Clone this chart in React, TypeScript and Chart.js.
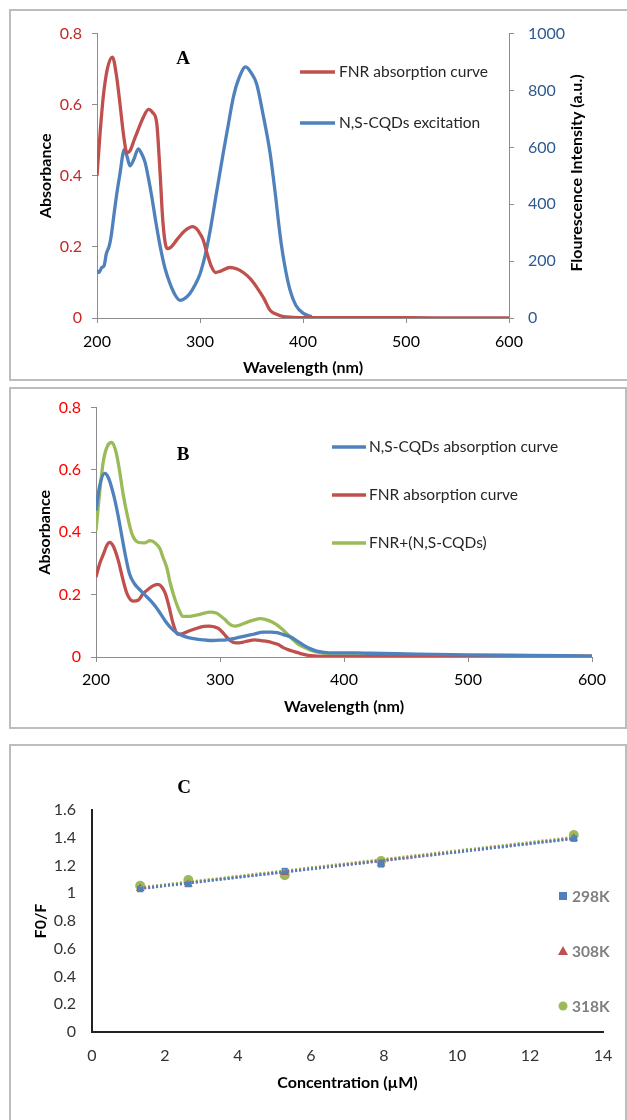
import React, { useEffect, useRef } from 'react';
import { Chart, registerables } from 'chart.js';
Chart.register(...registerables);

const FONT = 'Lato, "Liberation Sans", sans-serif';
const SERIF = '"Liberation Serif", "DejaVu Serif", serif';
const RED = '#C0504D';
const BLUE = '#4F81BD';
const GREEN = '#9BBB59';
const AXIS_GREY = '#8C8C8C';
const TICK_SIZE = 16;
const TITLE_SIZE = 16;

// ---------- Panel A ----------
const aTicksWavelength = [200, 300, 400, 500, 600];
const aFnrWavelength = [200, 203, 206, 210, 215, 219, 222, 226, 229, 232, 236, 240, 245, 250, 254, 258, 261, 264, 268, 272, 278, 285, 293, 297, 300, 303, 307, 311, 315, 320, 329, 336, 342, 349, 355, 362, 368, 375, 381, 390, 400, 450, 505, 550, 600];
const aFnrAbsorbance = [0.40, 0.52, 0.62, 0.70, 0.734, 0.68, 0.61, 0.51, 0.465, 0.47, 0.50, 0.53, 0.565, 0.587, 0.578, 0.548, 0.42, 0.27, 0.195, 0.20, 0.222, 0.245, 0.257, 0.25, 0.237, 0.22, 0.18, 0.145, 0.128, 0.132, 0.142, 0.138, 0.128, 0.11, 0.087, 0.055, 0.022, 0.01, 0.004, 0.002, 0.001, 0.001, 0.001, 0, 0];
const aCqdWavelength = [200, 202, 204.5, 207, 209, 212, 214, 216, 219, 222, 226.6, 229, 232, 236, 240, 243, 246.7, 250, 253, 257, 261, 266, 271, 276, 280.7, 285, 290, 295, 300, 305, 309.7, 316, 322.6, 327, 332.4, 338, 344.4, 350, 355, 361, 368, 373, 377.7, 382, 387.5, 393, 400.4, 408.5];
const aCqdIntensity = [166, 160, 177, 185, 225, 255, 294, 350, 432, 500, 593, 570, 535, 560, 595, 580, 547, 490, 431, 340, 258, 175, 120, 80, 62, 68, 85, 115, 155, 220, 304, 440, 581, 670, 777, 845, 883, 860, 823, 720, 581, 440, 293, 190, 97, 45, 16, 5];

// ---------- Panel B ----------
const bCqdWavelength = [200, 203, 207, 210, 214, 218, 221, 224, 227, 231, 236, 240, 244, 248, 252, 256, 261, 265, 268, 273, 279, 286, 292, 299, 305, 312, 319, 327, 335, 341, 346, 351, 357, 362, 367, 372, 378, 384, 391, 400, 410, 420, 450, 500, 550, 600];
const bCqdAbsorbance = [0.47, 0.55, 0.589, 0.575, 0.523, 0.45, 0.384, 0.32, 0.267, 0.235, 0.213, 0.197, 0.181, 0.162, 0.139, 0.115, 0.091, 0.078, 0.071, 0.064, 0.059, 0.055, 0.053, 0.054, 0.055, 0.06, 0.066, 0.073, 0.08, 0.08, 0.078, 0.072, 0.064, 0.052, 0.039, 0.028, 0.019, 0.015, 0.013, 0.013, 0.013, 0.012, 0.01, 0.007, 0.005, 0.003];
const bFnrWavelength = [200, 203, 206, 209, 211, 214, 218, 221, 225, 230, 234, 238, 243, 247, 250, 253, 256, 259, 262, 266, 270, 276, 282, 287, 291, 295, 299, 303, 308, 313, 318, 323, 328, 334, 338, 343, 347, 351, 356, 360, 365, 370, 378, 389, 400, 450, 500, 550, 600];
const bFnrAbsorbance = [0.256, 0.30, 0.33, 0.36, 0.368, 0.355, 0.309, 0.26, 0.203, 0.179, 0.182, 0.203, 0.22, 0.23, 0.233, 0.225, 0.203, 0.16, 0.11, 0.073, 0.075, 0.085, 0.093, 0.098, 0.099, 0.097, 0.091, 0.075, 0.053, 0.045, 0.047, 0.052, 0.055, 0.052, 0.05, 0.045, 0.04, 0.03, 0.022, 0.017, 0.011, 0.006, 0.003, 0.001, 0.001, 0.001, 0.001, 0.002, 0.003];
const bMixWavelength = [200, 203, 206, 209, 212.6, 216, 219, 222, 225, 229, 234, 239, 243.5, 248, 251.6, 254, 257, 260, 264, 267, 270, 275, 279, 285, 292, 297, 300, 304, 308, 312, 317, 322, 327, 332, 337, 342, 347, 354, 359, 364.5, 368.5, 373, 378, 385, 391, 400, 450, 500, 550, 600];
const bMixAbsorbance = [0.405, 0.53, 0.63, 0.675, 0.688, 0.66, 0.597, 0.52, 0.459, 0.395, 0.368, 0.366, 0.373, 0.365, 0.347, 0.32, 0.288, 0.235, 0.181, 0.15, 0.13, 0.13, 0.133, 0.138, 0.144, 0.141, 0.133, 0.12, 0.105, 0.099, 0.104, 0.112, 0.118, 0.123, 0.12, 0.112, 0.1, 0.075, 0.055, 0.037, 0.03, 0.022, 0.016, 0.011, 0.0085, 0.007, 0.005, 0.004, 0.003, 0.002];

// ---------- Panel C ----------
const cConcentration = [1.32, 2.64, 5.28, 7.92, 13.2];
const c298K = [1.03, 1.066, 1.16, 1.208, 1.393];
const c308K = [1.035, 1.065, 1.15, 1.212, 1.396];
const c318K = [1.054, 1.095, 1.13, 1.232, 1.42];
const cTrendConcentration = [1.32, 13.2];
const cTrend298K = [1.032, 1.392];
const cTrend308K = [1.034, 1.396];
const cTrend318K = [1.042, 1.405];
const cLegendLabels = ['298K', '308K', '318K'];

const pts = (xs: number[], ys: number[]) => xs.map((x, i) => ({ x, y: ys[i] }));
const fmt = (v: number) => String(Math.round(v * 10) / 10);

function textPlugin(draw: (ctx: CanvasRenderingContext2D, chart: any) => void) {
  return {
    id: 'customText',
    afterDraw(chart: any) {
      const ctx = chart.ctx;
      ctx.save();
      draw(ctx, chart);
      ctx.restore();
    },
  };
}

function legendLine(ctx: CanvasRenderingContext2D, x1: number, x2: number, y: number, color: string, text: string, tx: number) {
  ctx.strokeStyle = color;
  ctx.lineWidth = 3.5;
  ctx.beginPath();
  ctx.moveTo(x1, y);
  ctx.lineTo(x2, y);
  ctx.stroke();
  ctx.fillStyle = '#262626';
  ctx.font = `15.5px ${FONT}`;
  ctx.textAlign = 'left';
  ctx.textBaseline = 'middle';
  ctx.fillText(text, tx, y);
}

function panelLetter(ctx: CanvasRenderingContext2D, letter: string, x: number, y: number) {
  ctx.fillStyle = '#000';
  ctx.font = `bold 19px ${SERIF}`;
  ctx.textAlign = 'center';
  ctx.textBaseline = 'middle';
  ctx.fillText(letter, x, y);
}

const lineDs = (label: string, xs: number[], ys: number[], color: string, axis = 'y') => ({
  label,
  data: pts(xs, ys),
  borderColor: color,
  backgroundColor: color,
  borderWidth: 3.3,
  pointRadius: 0,
  fill: false,
  cubicInterpolationMode: 'monotone',
  yAxisID: axis,
});

const wavelengthX = (height: number, titleBottom: number, tickPad: number) => ({
  type: 'linear',
  min: 200,
  max: 600,
  afterBuildTicks: (s: any) => { s.ticks = aTicksWavelength.map((v) => ({ value: v })); },
  ticks: { color: '#000', font: { family: FONT, size: TICK_SIZE }, padding: tickPad },
  grid: { display: true, drawOnChartArea: false, drawTicks: true, tickLength: 5, color: AXIS_GREY },
  border: { display: true, color: AXIS_GREY, width: 1 },
  title: { display: true, text: 'Wavelength (nm)', color: '#000', font: { family: FONT, size: TITLE_SIZE, weight: 'bold' }, padding: { top: 0, bottom: titleBottom } },
  afterFit: (s: any) => { s.height = height; },
});

function makeA(): any {
  return {
    type: 'line',
    data: {
      datasets: [
        lineDs('FNR absorption curve', aFnrWavelength, aFnrAbsorbance, RED, 'y'),
        lineDs('N,S-CQDs excitation', aCqdWavelength, aCqdIntensity, BLUE, 'y2'),
      ],
    },
    options: {
      animation: false,
      responsive: false,
      devicePixelRatio: 1,
      layout: { padding: { top: 19, left: 0, right: 0, bottom: 0 } },
      plugins: { legend: { display: false }, tooltip: { enabled: false } },
      scales: {
        x: wavelengthX(62, 3, 9),
        y: {
          position: 'left', min: 0, max: 0.8,
          ticks: { stepSize: 0.2, color: '#C62828', font: { family: FONT, size: TICK_SIZE }, padding: 10, callback: (v: number) => fmt(v) },
          grid: { display: true, drawOnChartArea: false, drawTicks: true, tickLength: 5, color: AXIS_GREY },
          border: { display: true, color: AXIS_GREY, width: 1 },
          title: { display: true, text: 'Absorbance', color: '#000', font: { family: FONT, size: TITLE_SIZE, weight: 'bold' }, padding: { top: 26, bottom: 0 } },
          afterFit: (s: any) => { s.width = 87; },
        },
        y2: {
          position: 'right', min: 0, max: 1000,
          ticks: { stepSize: 200, color: '#2F5A8E', font: { family: FONT, size: TICK_SIZE }, padding: 14, callback: (v: number) => String(Math.round(v)) },
          grid: { display: true, drawOnChartArea: false, drawTicks: true, tickLength: 5, color: AXIS_GREY },
          border: { display: true, color: AXIS_GREY, width: 1 },
          afterFit: (s: any) => { s.width = 118; },
        },
      },
    },
    plugins: [textPlugin((ctx) => {
      panelLetter(ctx, 'A', 173, 49);
      legendLine(ctx, 290, 325, 62, RED, 'FNR absorption curve', 329);
      legendLine(ctx, 290, 325, 113, BLUE, 'N,S-CQDs excitation', 329);
      ctx.save();
      ctx.translate(567, 163);
      ctx.rotate(-Math.PI / 2);
      ctx.fillStyle = '#000';
      ctx.font = `bold ${TITLE_SIZE}px ${FONT}`;
      ctx.textAlign = 'center';
      ctx.textBaseline = 'middle';
      ctx.fillText('Flourescence Intensity (a.u.)', 0, 0);
      ctx.restore();
    })],
  };
}

function makeB(): any {
  return {
    type: 'line',
    data: {
      datasets: [
        lineDs('N,S-CQDs absorption curve', bCqdWavelength, bCqdAbsorbance, BLUE),
        lineDs('FNR absorption curve', bFnrWavelength, bFnrAbsorbance, RED),
        lineDs('FNR+(N,S-CQDs)', bMixWavelength, bMixAbsorbance, GREEN),
      ],
    },
    options: {
      animation: false,
      responsive: false,
      devicePixelRatio: 1,
      layout: { padding: { top: 18, left: 0, right: 35, bottom: 0 } },
      plugins: { legend: { display: false }, tooltip: { enabled: false } },
      scales: {
        x: wavelengthX(71, 12, 8),
        y: {
          position: 'left', min: 0, max: 0.8,
          ticks: { stepSize: 0.2, color: '#FF0000', font: { family: FONT, size: TICK_SIZE }, padding: 10, callback: (v: number) => fmt(v) },
          grid: { display: true, drawOnChartArea: false, drawTicks: true, tickLength: 5, color: AXIS_GREY },
          border: { display: true, color: AXIS_GREY, width: 1 },
          title: { display: true, text: 'Absorbance', color: '#000', font: { family: FONT, size: TITLE_SIZE, weight: 'bold' }, padding: { top: 25, bottom: 0 } },
          afterFit: (s: any) => { s.width = 86; },
        },
      },
    },
    plugins: [textPlugin((ctx) => {
      panelLetter(ctx, 'B', 173, 67);
      legendLine(ctx, 322, 356, 59, BLUE, 'N,S-CQDs absorption curve', 359);
      legendLine(ctx, 322, 356, 107, RED, 'FNR absorption curve', 359);
      legendLine(ctx, 322, 356, 155, GREEN, 'FNR+(N,S-CQDs)', 359);
    })],
  };
}

function makeC(): any {
  const marker = (label: string, ys: number[], color: string, style: string, r: number) => ({
    label, data: pts(cConcentration, ys), showLine: false, pointStyle: style, pointRadius: r,
    pointBackgroundColor: color, pointBorderColor: color, pointBorderWidth: 0, borderColor: color, backgroundColor: color,
  });
  const trend = (label: string, ys: number[], color: string) => ({
    label, data: pts(cTrendConcentration, ys), borderColor: color, borderWidth: 2.5, borderDash: [2, 2],
    pointRadius: 0, fill: false, tension: 0,
  });
  return {
    type: 'line',
    data: {
      datasets: [
        trend('298K trend', cTrend298K, BLUE),
        trend('308K trend', cTrend308K, RED),
        trend('318K trend', cTrend318K, GREEN),
        marker('298K', c298K, BLUE, 'rect', 4.5),
        marker('308K', c308K, RED, 'triangle', 5),
        marker('318K', c318K, GREEN, 'circle', 5),
      ],
    },
    options: {
      animation: false,
      responsive: false,
      devicePixelRatio: 1,
      layout: { padding: { top: 65, left: 0, right: 24, bottom: 0 } },
      plugins: { legend: { display: false }, tooltip: { enabled: false } },
      scales: {
        x: {
          type: 'linear', min: 0, max: 14,
          ticks: { stepSize: 2, color: '#333', font: { family: FONT, size: TICK_SIZE }, padding: 14 },
          grid: { display: false, drawTicks: false },
          border: { display: true, color: '#222', width: 2 },
          title: { display: true, text: 'Concentration (µM)', color: '#000', font: { family: FONT, size: TITLE_SIZE, weight: 'bold' }, padding: { top: 0, bottom: 28 } },
          afterFit: (s: any) => { s.height = 88; },
        },
        y: {
          min: 0, max: 1.6,
          ticks: { stepSize: 0.2, color: '#333', font: { family: FONT, size: TICK_SIZE }, padding: 16, callback: (v: number) => fmt(v) },
          grid: { display: false, drawTicks: false },
          border: { display: true, color: '#222', width: 2 },
          title: { display: true, text: 'F0/F', color: '#000', font: { family: FONT, size: TITLE_SIZE, weight: 'bold' }, padding: { top: 21, bottom: 0 } },
          afterFit: (s: any) => { s.width = 82; },
        },
      },
    },
    plugins: [textPlugin((ctx) => {
      panelLetter(ctx, 'C', 174, 43);
      const rows = [151, 206, 261];
      const colors = [BLUE, RED, GREEN];
      rows.forEach((y, i) => {
        ctx.fillStyle = colors[i];
        const x = 553;
        if (i === 0) ctx.fillRect(x - 4, y - 4, 8, 8);
        else if (i === 1) {
          ctx.beginPath(); ctx.moveTo(x, y - 5); ctx.lineTo(x + 5, y + 4); ctx.lineTo(x - 5, y + 4); ctx.closePath(); ctx.fill();
        } else {
          ctx.beginPath(); ctx.arc(x, y, 4.5, 0, Math.PI * 2); ctx.fill();
        }
        ctx.fillStyle = '#7F7F7F';
        ctx.font = `bold 15.5px ${FONT}`;
        ctx.textAlign = 'left';
        ctx.textBaseline = 'middle';
        ctx.fillText(cLegendLabels[i], 562, y + 1);
      });
    })],
  };
}

function ChartBox({ left, top, width, height, make }: { left: number; top: number; width: number; height: number; make: () => any }) {
  const ref = useRef<HTMLCanvasElement>(null);
  useEffect(() => {
    const chart = new Chart(ref.current as HTMLCanvasElement, make());
    return () => chart.destroy();
  }, []);
  return <canvas ref={ref} width={width} height={height} style={{ position: 'absolute', left, top, width, height }} />;
}

const frame = (left: number, top: number, width: number, height: number): React.CSSProperties => ({
  position: 'absolute', left, top, width, height, border: '2px solid #BDBDBD', boxSizing: 'border-box',
});

export default function App() {
  return (
    <div style={{ position: 'fixed', left: 0, top: 0, width: 627, height: 1120, background: '#fff', overflow: 'hidden' }}>
      <div style={frame(9, 9, 640, 372)} />
      <div style={frame(9, 387, 618, 342)} />
      <div style={frame(9, 744, 618, 400)} />
      <ChartBox left={10} top={10} width={617} height={370} make={makeA} />
      <ChartBox left={10} top={388} width={617} height={340} make={makeB} />
      <ChartBox left={10} top={745} width={617} height={375} make={makeC} />
    </div>
  );
}
